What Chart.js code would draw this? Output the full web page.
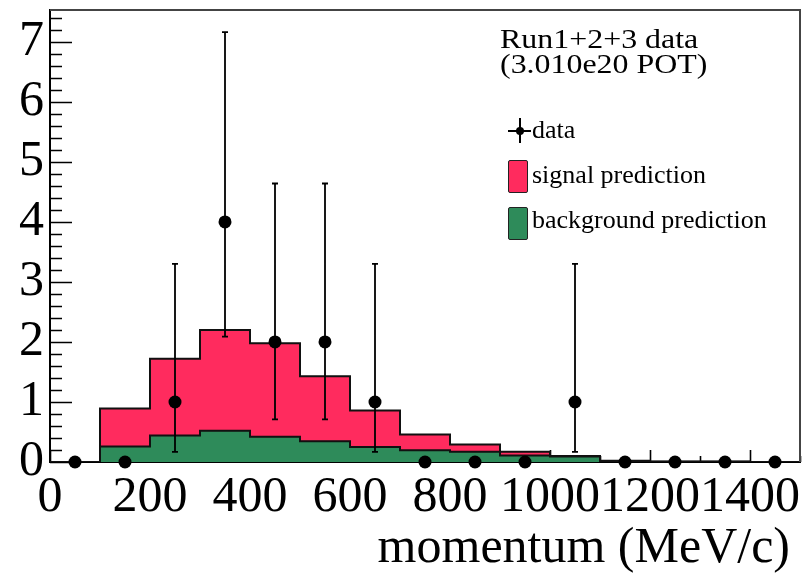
<!DOCTYPE html>
<html>
<head>
<meta charset="utf-8">
<script src="https://cdn.jsdelivr.net/npm/chart.js@4.4.1/dist/chart.umd.min.js"></script>
<style>
  html, body { margin: 0; padding: 0; background: #fff; }
  #wrap { position: relative; width: 808px; height: 576px; }
  #plot { position: absolute; left: 0; top: 0; }
  .lg { position: absolute; font-family: "Liberation Serif", "Times New Roman", serif; color: #000; white-space: nowrap; line-height: 1; }
  .head { font-size: 28px; transform: scaleX(1.14); transform-origin: left top; }
  .entry { font-size: 26px; }
  .axis-title { font-size: 50px; right: 18px; top: 520px; }
  .swatch { position: absolute; width: 18px; height: 31px; border: 1.5px solid #222; border-radius: 2px; }
  .mk { position: absolute; background: #000; }
</style>
</head>
<body>
<div id="wrap">
  <canvas id="plot" width="808" height="576"></canvas>

  <div class="lg head" style="left:500px; top:25px;">Run1+2+3 data</div>
  <div class="lg head" style="left:500px; top:50px;">(3.010e20 POT)</div>

  <div class="mk" style="left:508px; top:130px; width:23px; height:2px;"></div>
  <div class="mk" style="left:519px; top:118px; width:2px; height:25px;"></div>
  <div class="mk" style="left:516px; top:127px; width:8px; height:8px; border-radius:50%;"></div>
  <div class="lg entry" style="left:532px; top:117px;">data</div>

  <div class="swatch" style="left:508px; top:160px; background:#ff2b5e;"></div>
  <div class="lg entry" style="left:532px; top:162px;">signal prediction</div>

  <div class="swatch" style="left:508px; top:207px; background:#2e8b5a;"></div>
  <div class="lg entry" style="left:532px; top:207px;">background prediction</div>

  <div class="lg axis-title">momentum (MeV/c)</div>
</div>

<script>
// 100 MeV/c bins, 0-1500
const momentumCentres = [50, 150, 250, 350, 450, 550, 650, 750, 850, 950, 1050, 1150, 1250, 1350, 1450];
const binWidth = 100;

// observed events per bin and asymmetric (Gehrels) errors
const dataCounts = [0, 0, 1, 4, 2, 2, 1, 0, 0, 0, 1, 0, 0, 0, 0];
const errDown    = [0, 0, 0.83, 1.91, 1.29, 1.29, 0.83, 0, 0, 0, 0.83, 0, 0, 0, 0];
const errUp      = [0, 0, 2.30, 3.16, 2.64, 2.64, 2.30, 0, 0, 0, 2.30, 0, 0, 0, 0];

// predictions (stacked: background underneath, signal on top)
const backgroundPrediction = [0, 0.26, 0.44, 0.52, 0.42, 0.345, 0.25, 0.195, 0.17, 0.11, 0.09, 0.015, 0.005, 0.005, 0];
const signalPrediction     = [0, 0.63, 1.28, 1.68, 1.56, 1.085, 0.61, 0.265, 0.12, 0.06, 0.01, 0.005, 0.005, 0.005, 0];

const xTickValues = [0, 200, 400, 600, 800, 1000, 1200, 1400];
const yTickValues = [0, 1, 2, 3, 4, 5, 6, 7];

const SERIF = '"Liberation Serif", "Times New Roman", serif';

// left-edge points for a stepped outline, closed at the last bin's right edge
function histOutline(values) {
  const pts = momentumCentres.map((c, i) => ({ x: c - binWidth / 2, y: values[i] }));
  const last = momentumCentres[momentumCentres.length - 1] + binWidth / 2;
  pts.push({ x: last, y: values[values.length - 1] });
  pts.push({ x: last, y: 0 });
  return pts;
}

const totalPrediction = signalPrediction.map((s, i) => s + backgroundPrediction[i]);

// vertical error bars with small end caps, broken up by null gaps
const capHalf = 6;
const errorSegments = [];
momentumCentres.forEach((c, i) => {
  if (!dataCounts[i]) return;
  const lo = dataCounts[i] - errDown[i];
  const hi = dataCounts[i] + errUp[i];
  errorSegments.push({ x: c, y: lo }, { x: c, y: hi }, { x: c, y: null });
  errorSegments.push({ x: c - capHalf, y: hi }, { x: c + capHalf, y: hi }, { x: c, y: null });
  errorSegments.push({ x: c - capHalf, y: lo }, { x: c + capHalf, y: lo }, { x: c, y: null });
});

// ROOT-style inward ticks on the left and bottom axes, plus the frame
const innerTicks = {
  id: 'innerTicks',
  beforeDatasetsDraw(chart) {
    const { ctx, chartArea: a, scales: { x, y } } = chart;
    ctx.save();
    ctx.strokeStyle = '#000';
    ctx.lineWidth = 1.6;
    ctx.beginPath();
    for (let k = 0; k * 0.2 <= y.max + 1e-9; k++) {
      const py = Math.round(y.getPixelForValue(k * 0.2)) + 0.5;
      const len = k % 5 === 0 ? 22 : 12;
      ctx.moveTo(a.left, py);
      ctx.lineTo(a.left + len, py);
    }
    for (let k = 0; k * 100 <= x.max; k++) {
      const px = Math.round(x.getPixelForValue(k * 100)) + 0.5;
      const len = k % 2 === 0 ? 12 : 6;
      ctx.moveTo(px, a.bottom);
      ctx.lineTo(px, a.bottom - len);
    }
    ctx.stroke();
    ctx.restore();
  },
  afterDraw(chart) {
    const { ctx, chartArea: a } = chart;
    ctx.save();
    ctx.strokeStyle = '#444';
    ctx.lineWidth = 2;
    ctx.beginPath();
    ctx.moveTo(a.left, a.top);
    ctx.lineTo(a.right, a.top);
    ctx.lineTo(a.right, a.bottom);
    ctx.stroke();
    ctx.restore();
  }
};

new Chart(document.getElementById('plot'), {
  type: 'line',
  data: {
    datasets: [
      {
        label: 'data',
        data: momentumCentres.map((c, i) => ({ x: c, y: dataCounts[i] })),
        showLine: false,
        pointRadius: 6.5,
        pointBackgroundColor: '#000',
        pointBorderColor: '#000',
        pointBorderWidth: 0,
        clip: false,
        order: 0
      },
      {
        label: 'data errors',
        data: errorSegments,
        borderColor: '#000',
        borderWidth: 1.8,
        pointRadius: 0,
        spanGaps: false,
        fill: false,
        order: 1
      },
      {
        label: 'background prediction',
        data: histOutline(backgroundPrediction),
        stepped: true,
        fill: 'origin',
        backgroundColor: '#2e8b5a',
        borderColor: '#111',
        borderWidth: 2,
        pointRadius: 0,
        order: 2
      },
      {
        label: 'signal prediction',
        data: histOutline(totalPrediction),
        stepped: true,
        fill: 'origin',
        backgroundColor: '#ff2b5e',
        borderColor: '#111',
        borderWidth: 2,
        pointRadius: 0,
        order: 3
      }
    ]
  },
  options: {
    responsive: false,
    animation: false,
    events: [],
    layout: { padding: { top: 10, right: 8, left: 0, bottom: 0 } },
    plugins: {
      legend: { display: false },
      tooltip: { enabled: false }
    },
    scales: {
      x: {
        type: 'linear',
        min: 0,
        max: 1500,
        afterFit: s => {
          s.height = 114;
          s.paddingLeft = 0;
          s.paddingRight = 0;
        },
        afterBuildTicks: s => { s.ticks = xTickValues.map(v => ({ value: v })); },
        grid: { display: true, drawOnChartArea: false, drawTicks: false },
        border: { display: true, color: '#000', width: 2 },
        ticks: {
          autoSkip: false,
          maxRotation: 0,
          minRotation: 0,
          padding: 6,
          color: '#000',
          font: { family: SERIF, size: 50 },
          callback: v => String(v)
        }
      },
      y: {
        type: 'linear',
        min: 0,
        max: 7.53,
        afterFit: s => {
          s.width = 50;
          s.paddingTop = 0;
          s.paddingBottom = 0;
        },
        afterBuildTicks: s => { s.ticks = yTickValues.map(v => ({ value: v })); },
        grid: { display: true, drawOnChartArea: false, drawTicks: false },
        border: { display: true, color: '#000', width: 2 },
        ticks: {
          autoSkip: false,
          padding: 6,
          color: '#000',
          font: { family: SERIF, size: 50 },
          callback: v => String(v)
        }
      }
    }
  },
  plugins: [innerTicks]
});
</script>
</body>
</html>
